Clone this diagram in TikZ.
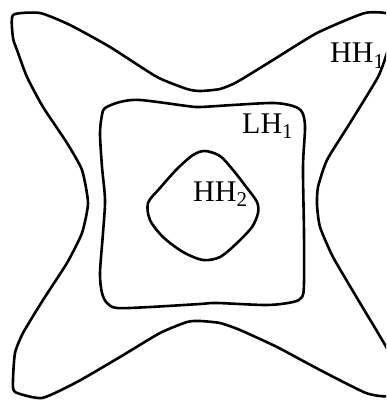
\documentclass[tikz,border=0pt]{standalone}
\usepackage{fontspec}
\setmainfont{Liberation Serif}

\tikzset{
  contour/.style={line width=2.6pt, line join=round},
  band/.style={font=\fontsize{30}{30}\selectfont, inner sep=0pt, anchor=base west},
}

\begin{document}
\begin{tikzpicture}[x=1pt,y=-1pt]

\useasboundingbox (0,0) rectangle (386,401);

% outer contour, cut at the right edge
\begin{scope}
\clip (0,0) rectangle (386,401);
\draw[contour] plot[smooth cycle, tension=0.35] coordinates {
  (13,15) (40,13) (70,25) (110,47) (157,77) (187,89) (200,91) (220,89)
  (237,82) (273,60) (317,33) (365,13) (392,15) (392,38) (388,50) (378,77)
  (350,123) (327,160) (318,187) (317,205) (320,227) (333,257) (360,303)
  (378,333) (390,355) (392,382) (388,396) (366,393) (320,370) (277,347)
  (240,330) (220,323) (200,321) (187,322) (160,333) (120,357) (77,382)
  (42,398) (15,392) (13,380) (15,353) (23,333) (43,300) (67,263) (82,233)
  (88,203) (82,170) (67,143) (43,107) (27,77) (17,50) (13,38)};
\end{scope}

% middle contour
\draw[contour] plot[smooth cycle, tension=0.5] coordinates {
  (105,108) (120,102) (140,100) (187,106) (200,107) (233,105) (273,103)
  (293,106) (302,112) (305,127) (303,167) (304,233) (304,283) (302,297)
  (293,302) (267,305) (217,303) (200,304) (150,307) (117,308) (107,303)
  (102,293) (100,273) (103,233) (105,200) (102,167) (100,133) (102,115)};

% inner contour
\draw[contour] plot[smooth cycle, tension=0.5] coordinates {
  (205,151) (193,155) (177,169) (160,188) (148,203) (150,220) (163,237)
  (183,252) (203,260) (220,257) (237,243) (252,227) (258,213) (257,202)
  (247,188) (233,170) (220,156)};

\node[band] (hhone) at (330,63) {HH\textsubscript{1}};
\node[band] (lhone) at (242,133) {LH\textsubscript{1}};
\node[band] (hhtwo) at (193,201) {HH\textsubscript{2}};

\end{tikzpicture}
\end{document}
